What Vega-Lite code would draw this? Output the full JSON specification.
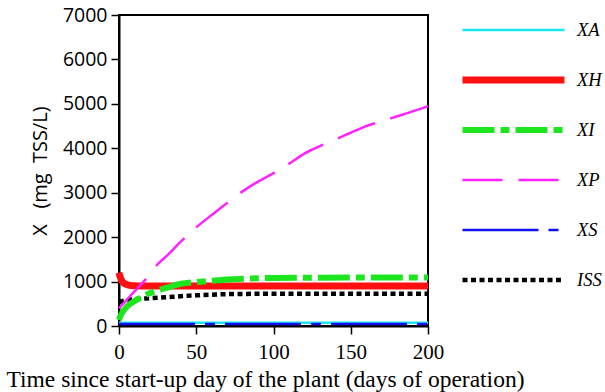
{
  "$schema": "https://vega.github.io/schema/vega-lite/v6.json",
  "width": 309,
  "height": 311,
  "autosize": {"type": "none"},
  "padding": {"left": 119, "top": 15, "right": 177, "bottom": 66},
  "background": "white",
  "config": {
    "view": {"stroke": "black", "strokeWidth": 2},
    "axis": {
      "grid": false,
      "labelFlush": false,
      "domainColor": "black",
      "domainWidth": 2,
      "tickColor": "black",
      "tickWidth": 1.5,
      "tickSize": 8,
      "labelColor": "black",
      "titleColor": "black",
      "titleFontWeight": "normal"
    },
    "legend": {
      "orient": "none", "legendX": 340, "legendY": -9.75, "title": null,
      "symbolType": "stroke", "symbolSize": 10404, "clipHeight": 49.5,
      "labelFont": "Liberation Serif", "labelFontStyle": "italic", "labelFontSize": 18.5,
      "labelColor": "black", "labelOffset": 9, "rowPadding": 0
    }
  },
  "data": {
    "values": [
      {"s": "XA", "t": 0, "X": 75},
      {"s": "XA", "t": 200, "X": 75},
      {"s": "XS", "t": 0, "X": 45},
      {"s": "XS", "t": 200, "X": 45},
      {"s": "XH", "t": 0, "X": 1200},
      {"s": "XH", "t": 1, "X": 1080},
      {"s": "XH", "t": 2, "X": 1010},
      {"s": "XH", "t": 3, "X": 970},
      {"s": "XH", "t": 5, "X": 935},
      {"s": "XH", "t": 7, "X": 915},
      {"s": "XH", "t": 10, "X": 905},
      {"s": "XH", "t": 15, "X": 900},
      {"s": "XH", "t": 200, "X": 900},
      {"s": "ISS", "t": 0, "X": 535},
      {"s": "ISS", "t": 2, "X": 560},
      {"s": "ISS", "t": 5, "X": 578},
      {"s": "ISS", "t": 10, "X": 600},
      {"s": "ISS", "t": 20, "X": 625},
      {"s": "ISS", "t": 30, "X": 645},
      {"s": "ISS", "t": 40, "X": 670},
      {"s": "ISS", "t": 50, "X": 690},
      {"s": "ISS", "t": 60, "X": 705},
      {"s": "ISS", "t": 70, "X": 718},
      {"s": "ISS", "t": 100, "X": 725},
      {"s": "ISS", "t": 200, "X": 725},
      {"s": "XI", "t": 0, "X": 135},
      {"s": "XI", "t": 1, "X": 230},
      {"s": "XI", "t": 2, "X": 300},
      {"s": "XI", "t": 3, "X": 350},
      {"s": "XI", "t": 5, "X": 430},
      {"s": "XI", "t": 7, "X": 490},
      {"s": "XI", "t": 10, "X": 560},
      {"s": "XI", "t": 15, "X": 660},
      {"s": "XI", "t": 20, "X": 740},
      {"s": "XI", "t": 25, "X": 800},
      {"s": "XI", "t": 30, "X": 850},
      {"s": "XI", "t": 40, "X": 950},
      {"s": "XI", "t": 50, "X": 990},
      {"s": "XI", "t": 60, "X": 1020},
      {"s": "XI", "t": 70, "X": 1045},
      {"s": "XI", "t": 80, "X": 1065},
      {"s": "XI", "t": 100, "X": 1080},
      {"s": "XI", "t": 150, "X": 1090},
      {"s": "XI", "t": 200, "X": 1090},
      {"s": "XP", "t": 0, "X": 400},
      {"s": "XP", "t": 5, "X": 590},
      {"s": "XP", "t": 10, "X": 780},
      {"s": "XP", "t": 15, "X": 960},
      {"s": "XP", "t": 20, "X": 1170},
      {"s": "XP", "t": 25, "X": 1390},
      {"s": "XP", "t": 30, "X": 1550},
      {"s": "XP", "t": 40, "X": 1900},
      {"s": "XP", "t": 50, "X": 2220},
      {"s": "XP", "t": 60, "X": 2500},
      {"s": "XP", "t": 70, "X": 2770},
      {"s": "XP", "t": 80, "X": 3030},
      {"s": "XP", "t": 90, "X": 3250},
      {"s": "XP", "t": 100, "X": 3440},
      {"s": "XP", "t": 110, "X": 3650},
      {"s": "XP", "t": 120, "X": 3880},
      {"s": "XP", "t": 130, "X": 4050},
      {"s": "XP", "t": 140, "X": 4200},
      {"s": "XP", "t": 150, "X": 4350},
      {"s": "XP", "t": 160, "X": 4500},
      {"s": "XP", "t": 170, "X": 4610},
      {"s": "XP", "t": 180, "X": 4720},
      {"s": "XP", "t": 190, "X": 4830},
      {"s": "XP", "t": 200, "X": 4950}
    ]
  },
  "mark": {"type": "line", "strokeCap": "butt", "interpolate": "monotone"},
  "encoding": {
    "x": {
      "field": "t",
      "type": "quantitative",
      "scale": {"domain": [0, 200], "nice": false},
      "axis": {
        "values": [0, 50, 100, 150, 200],
        "format": "d",
        "title": "Time since start-up day of the plant (days of operation)",
        "titleFont": "Liberation Serif",
        "titleFontSize": 23.5,
        "titlePadding": 5,
        "titleX": 146,
        "labelFont": "Liberation Serif",
        "labelFontSize": 21,
        "labelPadding": 7
      }
    },
    "y": {
      "field": "X",
      "type": "quantitative",
      "scale": {"domain": [0, 7000], "nice": false},
      "axis": {
        "values": [0, 1000, 2000, 3000, 4000, 5000, 6000, 7000],
        "format": "d",
        "title": "X\u00a0\u00a0\u00a0(mg\u00a0\u00a0TSS/L)",
        "titleFont": "Open Sans",
        "titleFontSize": 20,
        "titlePadding": 12,
        "labelFont": "Open Sans",
        "labelFontSize": 19.5,
        "labelPadding": 4
      }
    },
    "color": {
      "field": "s",
      "type": "nominal",
      "scale": {
        "domain": ["XA", "XH", "XI", "XP", "XS", "ISS"],
        "range": ["#19e6f5", "#ff1010", "#1ee61e", "#ff22ff", "#1010f0", "#000000"]
      }
    },
    "strokeDash": {
      "field": "s",
      "type": "nominal",
      "scale": {
        "domain": ["XA", "XH", "XI", "XP", "XS", "ISS"],
        "range": [[1, 0], [1, 0], [32, 6, 9, 6], [40, 16], [76, 10, 10, 10], [5, 3.5]]
      }
    },
    "strokeWidth": {
      "field": "s",
      "type": "nominal",
      "scale": {
        "type": "ordinal",
        "domain": ["XA", "XH", "XI", "XP", "XS", "ISS"],
        "range": [2.5, 7, 6, 2.5, 2.5, 4.5]
      }
    }
  }
}
